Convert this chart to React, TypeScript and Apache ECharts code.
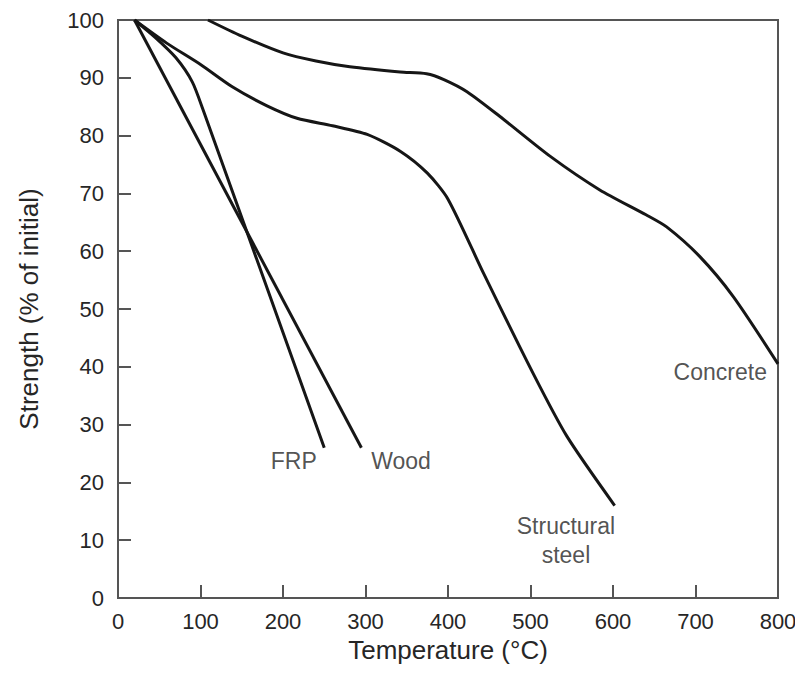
import React, { useEffect, useRef } from "react";
import * as echarts from "echarts";

const xTicks = [0, 100, 200, 300, 400, 500, 600, 700, 800];
const yTicks = [0, 10, 20, 30, 40, 50, 60, 70, 80, 90, 100];

const frp: [number, number][] = [
  [20, 100], [45, 97], [70, 93.5], [90, 89.3], [103, 84.5], [250, 26],
];
const wood: [number, number][] = [
  [20, 100], [295, 26],
];
const steel: [number, number][] = [
  [20, 100], [59, 96], [100, 92.3], [139, 88.4], [180, 85.2], [217, 83], [260, 81.7], [302, 80.2],
  [342, 77.3], [375, 73.5], [400, 69], [443, 56.2], [503, 38.9], [544, 28], [602, 16],
];
const concrete: [number, number][] = [
  [109, 100], [150, 97.2], [200, 94.3], [240, 92.9], [281, 91.9], [342, 91], [374, 90.7],
  [395, 89.7], [423, 87.6], [463, 83.3], [524, 76.4], [584, 70.6], [640, 66.3], [665, 64.2],
  [705, 59.1], [746, 52.1], [800, 40.5],
];

const labelNames = ["FRP", "Wood", "Structural\nsteel", "Concrete"];
const labelPos: [number, number][] = [
  [213, 23.7], [343, 23.7], [543, 10], [730, 39.1],
];

const lineColor = "#161616";
const textColor = "#262626";

export default function App() {
  const ref = useRef<HTMLDivElement>(null);
  useEffect(() => {
    if (!ref.current) return;
    const chart = echarts.init(ref.current, null, { renderer: "svg" });
    const mkLine = (name: string, data: [number, number][]) => ({
      name,
      type: "line",
      data,
      showSymbol: false,
      smooth: 0.25,
      lineStyle: { color: lineColor, width: 3 },
      z: 3,
    });
    chart.setOption({
      animation: false,
      backgroundColor: "#ffffff",
      textStyle: { fontFamily: "Liberation Sans, Arial, sans-serif" },
      grid: {
        left: 118, right: 25, top: 20, bottom: 75,
        show: true, borderColor: "#555555", borderWidth: 2,
      },
      xAxis: {
        type: "value", min: 0, max: 800, interval: 100,
        name: "Temperature (°C)", nameLocation: "middle", nameGap: 36,
        nameTextStyle: { fontSize: 26, color: textColor },
        axisLine: { show: true, lineStyle: { color: "#555555", width: 2 } },
        axisTick: { show: true, inside: true, length: 13, lineStyle: { color: "#555555", width: 2 } },
        axisLabel: { fontSize: 22, color: textColor, margin: 12,
          formatter: (v: number) => (xTicks.includes(v) ? String(v) : "") },
        splitLine: { show: false },
      },
      yAxis: {
        type: "value", min: 0, max: 100, interval: 10,
        name: "Strength (% of initial)", nameLocation: "middle", nameGap: 76,
        nameTextStyle: { fontSize: 26, color: textColor },
        axisLine: { show: true, lineStyle: { color: "#555555", width: 2 } },
        axisTick: { show: true, inside: true, length: 13, lineStyle: { color: "#555555", width: 2 } },
        axisLabel: { fontSize: 22, color: textColor, margin: 14,
          formatter: (v: number) => (yTicks.includes(v) ? String(v) : "") },
        splitLine: { show: false },
      },
      series: [
        mkLine("FRP", frp),
        { ...mkLine("Wood", wood), smooth: false },
        mkLine("Structural steel", steel),
        mkLine("Concrete", concrete),
        {
          type: "scatter",
          symbolSize: 0,
          silent: true,
          data: labelPos.map((p, i) => ({ value: p, name: labelNames[i] })),
          label: {
            show: true, position: "inside", formatter: (p: any) => p.name,
            fontSize: 23, color: textColor, lineHeight: 29, align: "center",
          },
        },
      ],
    });
    return () => chart.dispose();
  }, []);
  return <div ref={ref} style={{ width: 803, height: 673, margin: -8 }} />;
}
